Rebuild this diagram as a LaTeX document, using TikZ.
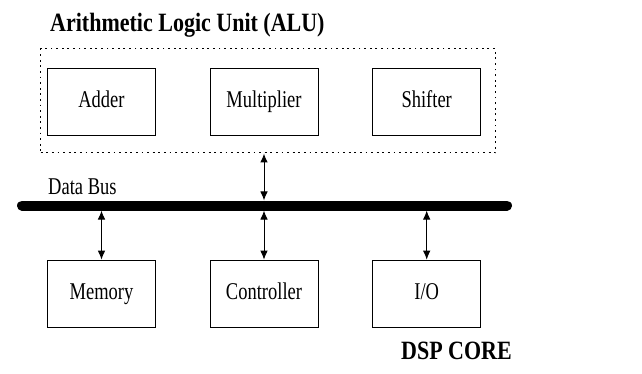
\documentclass[tikz,border=0pt]{standalone}
\usepackage{fontspec}
\usepackage{graphicx}
\setmainfont{Liberation Serif}
\usetikzlibrary{arrows.meta}
\newcommand\talltext[2][1.3]{\scalebox{1}[#1]{#2}}
\begin{document}
\begin{tikzpicture}[x=1pt,y=-1pt,
  unit/.style={draw,line width=1pt,minimum width=108pt,minimum height=67pt,inner sep=0pt,text height=16pt,text depth=5pt,font=\fontsize{18.5}{20}\selectfont},
  title/.style={font=\fontsize{22}{24}\selectfont\bfseries,inner sep=0pt},
  link/.style={line width=1pt,{Latex[length=9pt,width=7.5pt]}-{Latex[length=9pt,width=7.5pt]}},
  bus/.style={line width=10pt,line cap=round}]
\useasboundingbox (0,0) rectangle (642,374);
\node[title,anchor=base west] (ttl) at (50,32) {\talltext[1.2]{Arithmetic Logic Unit (ALU)}};
\node[draw,line width=1pt,dash pattern=on 1.8pt off 3.8pt,minimum width=455pt,minimum height=104pt,inner sep=0pt] (alu) at (268.2,101) {};
\node[unit] (add) at (101.5,102.5) {\talltext{Adder}};
\node[unit] (mul) at (264,102.5) {\talltext{Multiplier}};
\node[unit] (shf) at (426.7,102.5) {\talltext{Shifter}};
\node[unit] (mem) at (101.5,293.7) {\talltext{Memory}};
\node[unit] (ctl) at (264,293.7) {\talltext{Controller}};
\node[unit] (io) at (426.7,293.7) {\talltext{I/O}};
\coordinate (bl) at (22,205.5);
\coordinate (br) at (507,205.5);
\draw[bus] (bl) -- (br);
\coordinate (bt) at (0,200.5);
\coordinate (bb) at (0,210.5);
\node[anchor=base west,inner sep=0pt,font=\fontsize{18.5}{20}\selectfont] (lbl) at (48,195) {\talltext{Data Bus}};
\draw[link] (mul |- alu.south) -- (mul |- bt);
\draw[link] (mem |- bb) -- (mem.north);
\draw[link] (ctl |- bb) -- (ctl.north);
\draw[link] (io |- bb) -- (io.north);
\node[title,anchor=base east] (dsp) at (512,359) {\talltext[1.2]{DSP CORE}};
\end{tikzpicture}
\end{document}
